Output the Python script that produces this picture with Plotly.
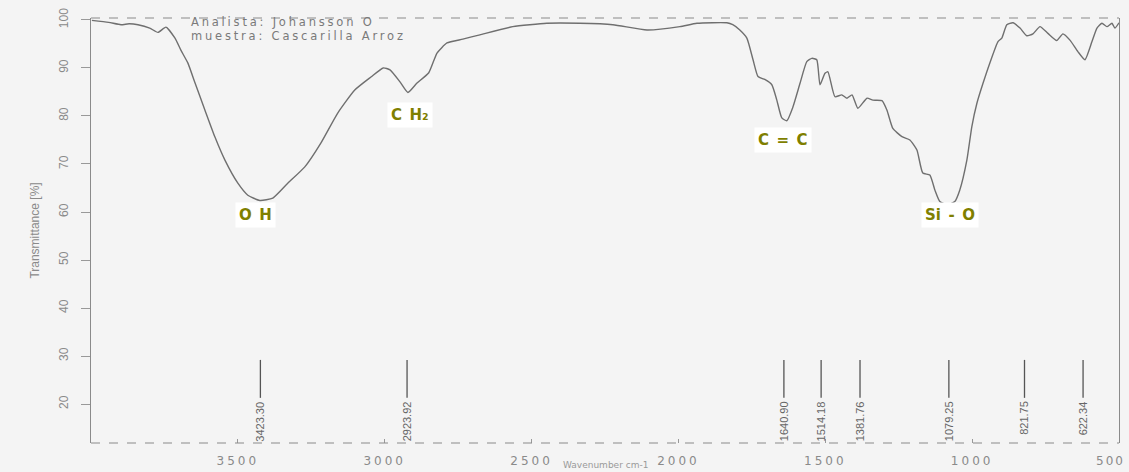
import plotly.graph_objects as go

# FTIR spectrum of rice husk (wavenumber in cm-1, transmittance in %)
wavenumber = [3997, 3940, 3898, 3870, 3840, 3800, 3772, 3745, 3714, 3694, 3670, 3646,
              3612, 3578, 3544, 3500, 3466, 3425, 3381, 3330, 3272, 3217, 3160, 3102,
              3047, 3005, 2982, 2948, 2921, 2891, 2850, 2822, 2788, 2734, 2676, 2564,
              2448, 2336, 2223, 2107, 1995, 1937, 1835, 1815, 1791, 1767, 1746, 1729,
              1706, 1682, 1665, 1648, 1631, 1610, 1586, 1563, 1546, 1529, 1518, 1501,
              1491, 1467, 1444, 1426, 1409, 1389, 1358, 1338, 1307, 1290, 1270, 1239,
              1212, 1188, 1168, 1144, 1127, 1110, 1086, 1059, 1042, 1018, 1001, 984,
              963, 940, 912, 899, 882, 861, 837, 814, 793, 769, 742, 712, 691, 667,
              640, 616, 592, 575, 558, 541, 524, 514, 500]
transmittance = [99.9, 99.5, 99.0, 99.2, 99.0, 98.3, 97.4, 98.5, 96.2, 93.7, 91.0, 86.9,
                 81.2, 75.6, 70.8, 66.0, 63.5, 62.4, 62.9, 66.0, 69.4, 74.4, 80.6, 85.4,
                 88.1, 90.0, 89.6, 87.1, 84.9, 86.8, 89.0, 93.1, 95.2, 96.0, 96.9, 98.6,
                 99.3, 99.3, 99.0, 97.9, 98.6, 99.3, 99.4, 99.0, 97.9, 96.2, 91.7, 88.2,
                 87.6, 86.5, 83.3, 79.6, 79.0, 81.9, 86.8, 91.3, 92.0, 91.7, 86.5, 88.9,
                 89.2, 84.0, 84.4, 83.7, 84.4, 81.6, 83.7, 83.3, 83.2, 81.2, 77.4, 75.7,
                 75.0, 72.9, 68.1, 67.7, 64.6, 62.2, 61.5, 62.2, 64.6, 70.8, 77.8, 82.6,
                 86.8, 91.0, 95.5, 96.2, 99.0, 99.4, 98.3, 96.7, 97.1, 98.6, 97.2, 95.7,
                 97.1, 95.8, 93.4, 91.7, 95.5, 98.3, 99.3, 98.6, 99.3, 98.3, 99.4]

# Picked peak positions
peak_wn = [3423.30, 2923.92, 1640.90, 1514.18, 1381.76, 1079.25, 821.75, 622.34]
peak_top, peak_bottom = 29.2, 21.3

# Band assignments: label, wavenumber, transmittance for label placement
band_labels = ["O\u2002H", "C\u2002H₂", "C\u2002=\u2002C", "Si\u2002-\u2002O"]
band_wn = [3439, 2914, 1644, 1076]
band_t = [59.4, 80.2, 75.0, 59.4]

x_ticks = [3500, 3000, 2500, 2000, 1500, 1000, 500]
x_ticktext = ["3500", "3000", "2500", "2000", "1500", "1000", ""]
edge_tick_label = "500"
y_ticks = [20, 30, 40, 50, 60, 70, 80, 90, 100]

info_lines = ["Analista: Johansson O", "muestra: Cascarilla Arroz"]

grey = "#6f6f6f"
label_grey = "#8a8a8a"

fig = go.Figure()

fig.add_trace(go.Scatter(
    x=wavenumber, y=transmittance, mode="lines",
    line=dict(color=grey, width=1.4, shape="spline", smoothing=0.5),
    hoverinfo="skip", showlegend=False))

# Peak marker segments
seg_x, seg_y = [], []
for w in peak_wn:
    seg_x += [w, w, None]
    seg_y += [peak_top, peak_bottom, None]
fig.add_trace(go.Scatter(x=seg_x, y=seg_y, mode="lines",
                         line=dict(color="#555555", width=1.3),
                         hoverinfo="skip", showlegend=False))

annotations = []
for w in peak_wn:
    annotations.append(dict(
        x=w, y=peak_bottom - 0.3, xref="x", yref="y", text=f"{w:.2f}",
        textangle=-90, showarrow=False, xanchor="center", yanchor="top",
        font=dict(family="Liberation Sans, Arial", size=11, color="#666666")))

for lab, w, t in zip(band_labels, band_wn, band_t):
    annotations.append(dict(
        x=w, y=t, xref="x", yref="y", text=lab, showarrow=False,
        font=dict(family="DejaVu Sans", size=15, color="#7f7f00", weight="bold"),
        bgcolor="#ffffff", borderpad=3))

# Sample info in the upper left corner of the plot
for i, line in enumerate(info_lines):
    annotations.append(dict(
        x=3665, y=99.6 - 2.9 * i, xref="x", yref="y", text=line, align="left",
        showarrow=False, xanchor="left", yanchor="middle",
        font=dict(family="DejaVu Sans", size=11.5, color="#7a7a7a")))

# Last tick number, kept inside the right page edge
annotations.append(dict(
    x=1.0, y=0, xref="paper", yref="paper", yshift=-9, text=edge_tick_label,
    showarrow=False, xanchor="right", yanchor="top", align="right", xshift=8,
    font=dict(family="DejaVu Sans", size=12, color="#8a8a8a")))

# Axis title at the foot of the page
annotations.append(dict(
    x=0.5, y=-29 / 425, xref="paper", yref="paper", text="Wavenumber cm-1",
    showarrow=False, xanchor="center", yanchor="bottom",
    font=dict(family="DejaVu Sans", size=9, color="#9a9a9a")))

fig.update_layout(
    width=1129, height=472,
    margin=dict(l=91, r=10, t=18, b=29),
    paper_bgcolor="#f4f4f4", plot_bgcolor="#f4f4f4",
    showlegend=False,
    annotations=annotations,
    xaxis=dict(range=[4000, 500], tickvals=x_ticks, ticktext=x_ticktext,
               ticks="inside", ticklen=4,
               tickcolor="#999999", showgrid=False, zeroline=False, showline=False,
               ticklabelstandoff=9, automargin=False,
               tickfont=dict(family="DejaVu Sans", size=12, color="#8a8a8a")),
    yaxis=dict(range=[11.9, 100.4], tickvals=y_ticks, tickangle=-90, ticks="outside",
               ticklen=9, tickcolor="#999999", showgrid=False, zeroline=False,
               showline=True, linecolor="#8a8a8a", linewidth=1.2, mirror=True,
               ticklabelstandoff=8, automargin=False,
               title=dict(text="Transmittance [%]", standoff=14,
                          font=dict(family="Liberation Sans, Arial", size=12, color=label_grey)),
               tickfont=dict(family="Liberation Sans, Arial", size=12, color=label_grey)),
)

# Dashed frame lines at top and bottom of the plotting region
for yv in (0, 1):
    fig.add_shape(type="line", xref="paper", yref="paper", x0=0, x1=1, y0=yv, y1=yv,
                  line=dict(color="#8a8a8a", width=1, dash="dash"))

# Wide letter spacing for the tick numbers and the sample info lines
spacing_js = """
var gd = document.getElementById('{plot_id}');
gd.querySelectorAll('.xtick text').forEach(function(t){ t.style.letterSpacing = '3px'; });
gd.querySelectorAll('.annotation-text').forEach(function(t){
  var s = t.textContent;
  if (s.indexOf('Analista') === 0 || s.indexOf('muestra') === 0) { t.style.letterSpacing = '2.8px'; }
  if (s === '500') { t.style.letterSpacing = '2px'; }
});
"""

fig.write_html("out.html", post_script=spacing_js)
